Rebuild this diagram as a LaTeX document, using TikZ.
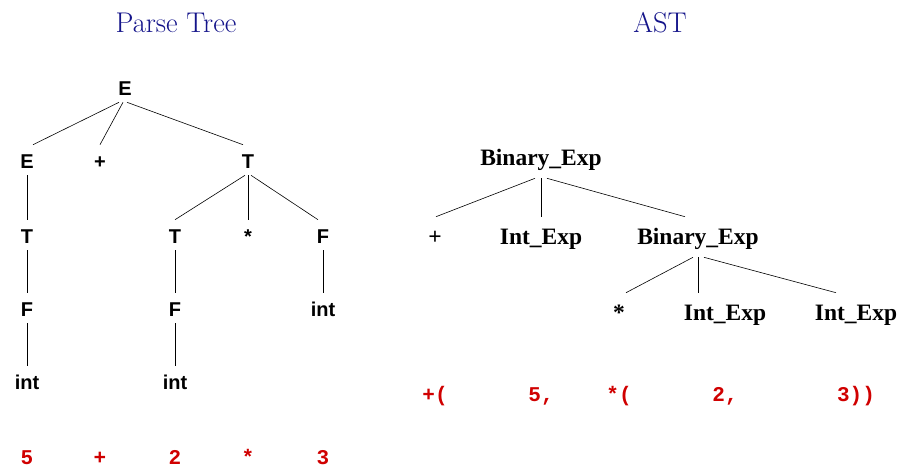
\documentclass[tikz,border=0pt]{standalone}
\usepackage{fontspec}
\usepackage{tikz}
\newfontfamily\treefont{Liberation Sans}
\newfontfamily\astfont{Liberation Serif}
\newfontfamily\codefont{Liberation Mono}
\definecolor{TitleBlue}{HTML}{14148A}
\definecolor{TokRed}{HTML}{D00000}
\tikzset{
  ptnode/.style={anchor=base,inner sep=3pt,text height=20pt,text depth=4pt,
    font=\treefont\bfseries\fontsize{20}{24}\selectfont},
  astnode/.style={anchor=base,inner sep=3pt,text height=24pt,text depth=10pt,
    font=\astfont\bfseries\fontsize{23.5}{28}\selectfont},
  tok/.style={anchor=base,inner sep=0pt,text=TokRed,
    font=\codefont\bfseries\fontsize{21}{25}\selectfont},
  title/.style={anchor=base,text=TitleBlue,font=\fontsize{28.5}{33}\selectfont}
}

\begin{document}
\begin{tikzpicture}[x=1pt,y=-1pt,line width=0.6pt]
  \useasboundingbox (0,0) rectangle (900,467);
  \node[title] (ptTitle) at (176,32.5) {Parse Tree};
  \node[title] (astTitle) at (660,32.5) {AST};

  \node[ptnode] (pE)    at (125,95)  {E};
  \node[ptnode] (pE1)   at (27,168)  {E};
  \node[ptnode] (pPlus) at (100,168) {+};
  \node[ptnode] (pT)    at (248,168) {T};
  \node[ptnode] (pT1)   at (27,243)  {T};
  \node[ptnode] (pT2)   at (175,243) {T};
  \node[ptnode] (pStar) at (248,243) {*};
  \node[ptnode] (pF)    at (323,243) {F};
  \node[ptnode] (pF1)   at (27,316)  {F};
  \node[ptnode] (pF2)   at (175,316) {F};
  \node[ptnode] (pInt3) at (323,316) {int};
  \node[ptnode] (pInt1) at (27,389)  {int};
  \node[ptnode] (pInt2) at (175,389) {int};
  \draw ([xshift=-6pt]pE.south) -- ([xshift=6pt]pE1.north);
  \draw ([xshift=-2pt]pE.south) -- (pPlus.north);
  \draw ([xshift=2pt]pE.south) -- ([xshift=-5pt]pT.north);
  \draw (pE1) -- (pT1) -- (pF1) -- (pInt1);
  \draw ([xshift=-3pt]pT.south) -- (pT2.north);
  \draw (pT) -- (pStar);
  \draw ([xshift=3pt]pT.south) -- ([xshift=-5pt]pF.north);
  \draw (pT2) -- (pF2) -- (pInt2);
  \draw (pF) -- (pInt3);

  \node[tok] (t5)     at (27,464)  {5};
  \node[tok] (tPlus)  at (100,464) {+};
  \node[tok] (t2)     at (175,464) {2};
  \node[tok] (tStar)  at (248,464) {*};
  \node[tok] (t3)     at (323,464) {3};

  \node[astnode] (aRoot) at (541,165) {Binary\_Exp};
  \node[astnode] (aPlus) at (435,244) {+};
  \node[astnode] (aInt1) at (541,244) {Int\_Exp};
  \node[astnode] (aBin)  at (698,244) {Binary\_Exp};
  \node[astnode] (aStar) at (619,320) {*};
  \node[astnode] (aInt2) at (725,320) {Int\_Exp};
  \node[astnode] (aInt3) at (856,320) {Int\_Exp};
  \draw ([xshift=-6pt]aRoot.south) -- ([xshift=1pt]aPlus.north);
  \draw (aRoot.south) -- (aInt1.north);
  \draw ([xshift=6pt]aRoot.south) -- ([xshift=-13pt]aBin.north);
  \draw ([xshift=-5pt]aBin.south) -- ([xshift=7pt]aStar.north);
  \draw (aBin.south) -- ([xshift=-27pt]aInt2.north);
  \draw ([xshift=6pt]aBin.south) -- ([xshift=-20pt]aInt3.north);

  \node[tok] (sPlus) at (435,401) {+(};
  \node[tok] (s5)    at (541,401) {5,};
  \node[tok] (sStar) at (619,401) {*(};
  \node[tok] (s2)    at (725,401) {2,};
  \node[tok] (s3)    at (856,401) {3))};
\end{tikzpicture}
\end{document}
